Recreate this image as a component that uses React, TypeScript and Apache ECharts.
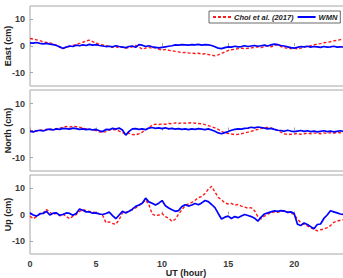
import React, { useEffect, useRef } from "react";
import * as echarts from "echarts";

// Samples every quarter hour from 0 to 24 UT (97 values per series)
const STEP_HOURS = 0.25;

const eastChoi = [
  2.8, 2.6, 2.3, 2.0, 1.6, 1.3, 1.2, 0.8,
  0.3, -0.5, -0.9, -0.4, -0.2, 0.2, 0.6, 1.0,
  1.4, 1.9, 2.2, 1.6, 1.2, 0.6, 0.4, 0.1,
  -0.2, -0.5, -0.3, -0.6, -0.4, -0.8, -0.6, -0.3,
  0.2, -0.4, -1.2, -0.8, -0.5, -0.9, -0.6, -1.2,
  -1.5, -1.3, -1.6, -1.8, -2.0, -2.2, -2.5, -2.4,
  -2.6, -2.7, -2.8, -2.7, -3.0, -2.9, -3.2, -3.4,
  -3.7, -3.3, -2.8, -2.2, -1.7, -1.4, -1.2, -1.0,
  -0.8, -1.0, -0.9, -0.7, -0.5, -0.3, -0.6, -0.2,
  0.1, -0.3, 0.2, 0.4, -0.2, -0.6, -0.9, -1.0,
  -0.9, -1.1, -0.8, -0.4, -0.2, 0.1, 0.4, 0.7,
  0.9, 1.2, 1.4, 1.6, 1.9, 2.1, 2.4, 2.6,
  2.5,
];

const eastWmn = [
  1.2, 1.1, 1.3, 1.0, 0.8, 1.0, 0.7, 0.5,
  0.2, -0.3, -0.9, -0.4, 0.0, -0.2, 0.3, 0.1,
  0.4, 0.2, 0.6, 0.3, 0.5, 0.2, 0.0, -0.2,
  -0.1, -0.3, 0.1, -0.2, -0.4, -0.6, -0.2, 0.0,
  -0.5, 0.5, 0.3, -0.2, 0.1, -0.3, -0.5, -0.7,
  -0.5, -0.3, -0.1, 0.1, 0.4, 0.3, 0.5, 0.4,
  0.3, 0.5, 0.4, 0.6, 0.3, 0.5, 0.4, 0.2,
  -0.3, -0.8, -1.0, -0.6, -0.3, -0.4, -0.1, -0.3,
  -0.2, 0.1, -0.2, 0.0, 0.2, -0.1, 0.1, 0.3,
  0.0, 0.4, 0.7, 0.5, 0.2, 0.0, -0.3, -0.6,
  -0.8, -0.5, -0.2, -0.3, -0.1, -0.4, -0.2, -0.3,
  -0.5, -0.2, -0.4, -0.3, -0.1, -0.4, -0.3, -0.4,
  -0.3,
];

const northChoi = [
  -0.2, -0.4, -0.2, 0.0, 0.2, 0.4, 0.3, 0.5,
  0.7, 0.9, 1.2, 1.5, 1.3, 1.6, 1.4, 1.2,
  0.9, 0.6, 0.4, 0.3, 0.0, -0.5, -0.7, -0.4,
  0.2, 0.4, 0.3, -0.2, -0.8, -1.3, -1.0, -1.5,
  -1.6, -1.2, -0.6, 0.3, 0.9, 2.1, 2.3, 2.2,
  2.4, 2.3, 2.6, 2.5, 2.8, 2.6, 2.9, 2.7,
  2.8, 2.9, 2.7, 2.6, 2.5, 2.2, 1.8, 1.4,
  1.0, 0.4, -0.3, -0.9, -1.1, -1.3, -1.5, -1.4,
  -1.2, -0.9, -0.6, -0.3, 0.1, 0.4, 0.7, 1.0,
  1.1, 0.9, 0.5, 0.0, -0.6, -1.2, -1.5, -1.4,
  -1.3, -1.1, -1.4, -1.2, -1.0, -1.2, -0.9, -1.1,
  -1.2, -0.9, -1.1, -0.8, -1.0, -0.7, -0.9, -0.6,
  -0.5,
];

const northWmn = [
  -0.3, -0.5, -0.1, 0.1, -0.2, 0.3, 0.5, 0.2,
  0.6, 0.4, 0.8, 0.7, 0.5, 0.9, 0.7, 0.4,
  0.6, 0.3, 0.5, 0.2, 0.4, -0.1, -0.4, 0.4,
  0.3, 0.8, 0.5, 0.9, 0.2, -1.7, -0.3, 0.6,
  0.7, 0.4, 0.6, 0.3, 0.9, 1.1, 0.8, 1.0,
  0.7, 1.0, 0.6, 0.8, 0.5, 0.7, 0.4, 0.6,
  0.3, 0.6, 0.4, 0.7, 0.5, 0.3, 0.6, 0.2,
  -0.3, -0.9, -1.2, -0.8, -0.4, 0.1, 0.4, 0.6,
  0.5, 0.8, 0.9, 1.2, 1.0, 1.3, 1.1, 0.9,
  0.6, 0.8, 0.4, 0.1, 0.0, -0.3, 0.1, -0.2,
  -0.4, -0.2, 0.0, -0.3, -0.1, -0.4, -0.2, -0.5,
  -0.3, -0.1, -0.4, -0.2, -0.5, -0.3, -0.1, -0.4,
  -0.2,
];

const upChoi = [
  -0.6, -1.6, -0.8, 0.2, 0.6, 1.9, 0.8, 0.0,
  0.4, -0.5, 0.2, -0.8, -1.6, -0.6, 0.0, 1.2,
  1.9, 1.4, 1.2, 0.9, 0.8, 0.2, -0.4, -3.1,
  -2.8, -3.4, -3.7, -1.9, 0.6, 0.9, 1.3, 1.8,
  2.5, 3.4, 4.3, 5.6, 3.8, 0.2, -0.4, -0.2,
  0.4, -0.8, -1.4, -2.6, -1.8, 0.2, 1.8, 3.4,
  4.0, 4.6, 5.4, 6.4, 6.8, 8.0, 9.6, 10.7,
  8.6, 6.5, 5.6, 4.4, 4.0, 4.2, 3.5, 3.8,
  3.2, 2.8, 2.4, 2.6, 1.4, -0.8, -1.7, -0.6,
  0.2, 0.6, 1.0, 0.8, 1.2, 1.4, 1.0, 0.5,
  0.0, -1.8, -3.1, -3.8, -4.3, -5.0, -5.6, -6.2,
  -5.8, -5.5, -5.0, -4.2, -3.0, -2.5, -2.2, -1.9,
  -1.6,
];

const upWmn = [
  0.6, -0.2, -0.6, 0.3, 0.4, 1.2, -0.2, 0.5,
  0.6, -0.3, 0.0, 0.6, 0.4, -0.3, 0.4, 2.1,
  1.6, 1.0, 1.0, 0.5, 0.6, 0.2, 0.0, 0.4,
  0.9, -0.4, -1.6, -0.2, 1.2, 0.6, 1.2, 2.0,
  3.1, 3.6, 4.3, 6.2, 4.8, 4.3, 3.6, 4.3,
  5.3, 3.3, 2.5, 1.8, 1.2, 1.5, 3.0, 3.7,
  3.2, 3.6, 4.2, 3.7, 4.4, 5.3, 4.9, 3.8,
  2.6, 0.4, -1.7, -1.0, -0.6, -1.5, -0.8, -1.2,
  -0.6, 0.0, -0.4, -0.8, -1.4, -2.5, -1.0, 0.2,
  0.6, 1.0, 1.4, 1.2, 1.5, 1.3, 0.8, 1.0,
  0.4, -3.7, -4.2, -3.2, -3.8, -4.6, -5.4, -3.8,
  -3.6, -1.5, -0.2, 1.4, 1.0, 0.6, 0.2, 0.0,
  0.2,
];

const X_TICKS = [0, 5, 10, 15, 20];
const Y_TICKS = [-10, 0, 10];
const PANEL_NAMES = ["East (cm)", "North (cm)", "Up (cm)"];
const X_TITLE = "UT (hour)";
const SERIES_NAMES = ["Choi et al. (2017)", "WMN"];
const PANEL_DATA = [
  [eastChoi, eastWmn],
  [northChoi, northWmn],
  [upChoi, upWmn],
];

const FONT = "'Liberation Sans', Arial, sans-serif";
const FRAME = "#a6a6a6";
const LABEL = "#3a3a3a";
const TITLE = "#222222";
const RED = "#ff1a1a";
const BLUE = "#0000ff";

function toPairs(values: number[]) {
  return values.map((v, i) => [i * STEP_HOURS, v]);
}

export default function App() {
  const ref = useRef<HTMLDivElement>(null);

  useEffect(() => {
    document.body.style.margin = "0";
    document.body.style.overflow = "hidden";
    const chart = echarts.init(ref.current!, null, { renderer: "svg" });

    const panels = [
      { top: 6, height: 80 },
      { top: 90, height: 81 },
      { top: 175, height: 79 },
    ];
    // Each panel is boxed by the grid border
    const grids = panels.map((p) => ({
      left: 30,
      right: 3,
      top: p.top,
      height: p.height,
      show: true,
      borderColor: FRAME,
      borderWidth: 1,
      backgroundColor: "transparent",
    }));

    const tickStyle = { show: true, inside: true, length: 3, lineStyle: { color: FRAME, width: 1 } };

    const xAxes = panels.map((_, i) => ({
      type: "value",
      gridIndex: i,
      min: 0,
      max: 24,
      axisLine: { show: false },
      axisTick: { ...tickStyle, customValues: X_TICKS },
      splitLine: { show: false },
      axisLabel: {
        show: i === 2,
        customValues: X_TICKS,
        margin: 5,
        fontFamily: FONT,
        fontSize: 9,
        fontWeight: "bold",
        color: LABEL,
      },
    }));
    const yAxes = panels.map((_, i) => ({
      type: "value",
      gridIndex: i,
      min: -15,
      max: 15,
      axisLine: { show: false },
      axisTick: { ...tickStyle, customValues: Y_TICKS },
      splitLine: { show: false },
      axisLabel: {
        customValues: Y_TICKS,
        margin: 5,
        fontFamily: FONT,
        fontSize: 9,
        fontWeight: "bold",
        color: LABEL,
      },
    }));

    const titleStyle = { fontFamily: FONT, fontSize: 9, fontWeight: "bold", fill: TITLE };
    // Rotated panel titles on the left, centred on each panel, plus the time title
    const titles: any[] = panels.map((p, i) => ({
      type: "text",
      x: 8,
      y: p.top + p.height / 2,
      rotation: Math.PI / 2,
      style: { text: PANEL_NAMES[i], align: "center", verticalAlign: "middle", ...titleStyle },
    }));
    titles.push({
      type: "text",
      x: 186,
      y: 273,
      style: { text: X_TITLE, align: "center", verticalAlign: "middle", ...titleStyle },
    });

    const series: any[] = [];
    PANEL_DATA.forEach(([choi, wmn], i) => {
      series.push({
        type: "line",
        name: SERIES_NAMES[0],
        xAxisIndex: i,
        yAxisIndex: i,
        data: toPairs(choi),
        symbol: "none",
        lineStyle: { color: RED, width: 1.4, type: [3, 2] },
        itemStyle: { color: RED },
        z: 2,
      });
      series.push({
        type: "line",
        name: SERIES_NAMES[1],
        xAxisIndex: i,
        yAxisIndex: i,
        data: toPairs(wmn),
        symbol: "none",
        lineStyle: { color: BLUE, width: 1.7 },
        itemStyle: { color: BLUE },
        z: 3,
      });
    });

    chart.setOption({
      animation: false,
      backgroundColor: "#ffffff",
      grid: grids,
      xAxis: xAxes,
      yAxis: yAxes,
      graphic: titles,
      legend: {
        data: SERIES_NAMES,
        left: 209,
        top: 11,
        width: 180,
        orient: "horizontal",
        itemWidth: 18,
        itemHeight: 6,
        itemGap: 3,
        padding: [2, 3, 2, 3],
        backgroundColor: "#ffffff",
        borderColor: "#444444",
        borderWidth: 0.8,
        itemStyle: { opacity: 0 },
        textStyle: {
          fontFamily: FONT,
          fontSize: 7.5,
          fontStyle: "italic",
          fontWeight: "bold",
          color: TITLE,
          padding: [0, 0, 0, -2],
        },
      },
      series,
    });

    return () => chart.dispose();
  }, []);

  return <div ref={ref} style={{ width: 350, height: 278 }} />;
}
